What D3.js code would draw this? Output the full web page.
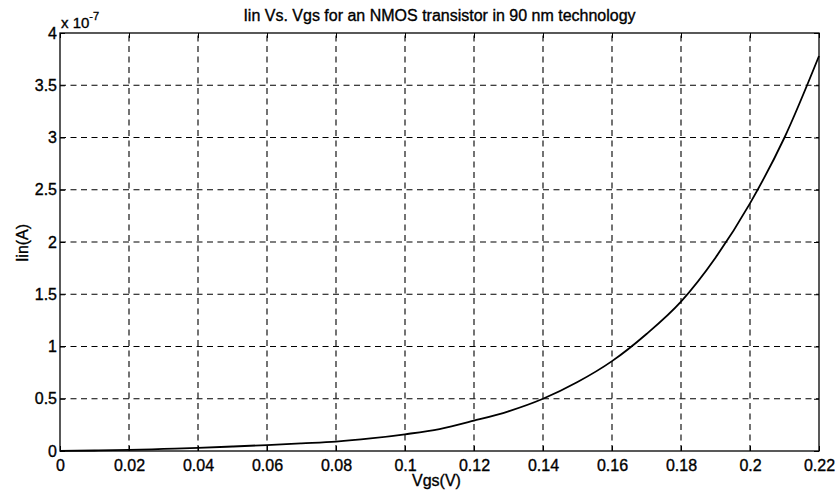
<!DOCTYPE html>
<html>
<head>
<meta charset="utf-8">
<script src="https://cdn.jsdelivr.net/npm/d3@7"></script>
<style>
  html, body { margin: 0; padding: 0; background: #fff; }
  svg { display: block; font-family: "Liberation Sans", Arial, Helvetica, sans-serif; }
  text { fill: #000; stroke: #000; stroke-width: 0.35px; }
</style>
</head>
<body>
<svg id="chart" width="836" height="491"></svg>
<script>
// Data (current in units of 1e-7 A)
const vgs = [0, 0.01, 0.02, 0.03, 0.04, 0.05, 0.06, 0.07, 0.08, 0.09, 0.10, 0.11, 0.12, 0.13, 0.14, 0.15, 0.16, 0.17, 0.18, 0.19, 0.20, 0.21, 0.22];
const iin = [0.002, 0.005, 0.01, 0.02, 0.03, 0.043, 0.057, 0.073, 0.09, 0.12, 0.16, 0.21, 0.29, 0.38, 0.5, 0.66, 0.86, 1.12, 1.43, 1.85, 2.37, 3.0, 3.78];
const xTicks = [0, 0.02, 0.04, 0.06, 0.08, 0.1, 0.12, 0.14, 0.16, 0.18, 0.2, 0.22];
const yTicks = [0, 0.5, 1, 1.5, 2, 2.5, 3, 3.5, 4];
const xTickLabels = ["0", "0.02", "0.04", "0.06", "0.08", "0.1", "0.12", "0.14", "0.16", "0.18", "0.2", "0.22"];
const yTickLabels = ["0", "0.5", "1", "1.5", "2", "2.5", "3", "3.5", "4"];
const titleText = "Iin Vs. Vgs for an NMOS transistor in 90 nm technology";
const xLabelText = "Vgs(V)";
const yLabelText = "Iin(A)";

const svg = d3.select("#chart");
const L = 60, R = 819, T = 33, B = 451;
const x = d3.scaleLinear().domain([0, 0.22]).range([L, R]);
const y = d3.scaleLinear().domain([0, 4]).range([B, T]);

// Grid
const g = svg.append("g");
g.selectAll(".vg").data(xTicks.slice(1, -1)).enter().append("line")
  .attr("x1", d => x(d)).attr("x2", d => x(d)).attr("y1", B).attr("y2", T)
  .attr("stroke", "#000").attr("stroke-width", 1.1).attr("stroke-dasharray", "6,4.5");
g.selectAll(".hg").data(yTicks.slice(1, -1)).enter().append("line")
  .attr("y1", d => y(d)).attr("y2", d => y(d)).attr("x1", L).attr("x2", R)
  .attr("stroke", "#000").attr("stroke-width", 1.1).attr("stroke-dasharray", "6,4.5");

// Axes
const xAxis = d3.axisBottom(x).tickValues(xTicks).tickSize(-5).tickPadding(9)
  .tickFormat((d, i) => xTickLabels[i]);
const yAxis = d3.axisLeft(y).tickValues(yTicks).tickSize(-5).tickPadding(3)
  .tickFormat((d, i) => yTickLabels[i]);
const xa = svg.append("g").attr("transform", `translate(0,${B})`).call(xAxis);
const ya = svg.append("g").attr("transform", `translate(${L},0)`).call(yAxis);
[xa, ya].forEach(a => {
  a.select(".domain").remove();
  a.selectAll("line").attr("stroke", "#000");
  a.selectAll("text").attr("fill", "#000").style("font-size", "16px").style("font-family", "Liberation Sans, Arial, sans-serif");
});
// top/right ticks
svg.append("g").attr("transform", `translate(0,${T})`)
  .call(d3.axisTop(x).tickValues(xTicks).tickSize(-5).tickFormat(""))
  .call(a => { a.select(".domain").remove(); a.selectAll("line").attr("stroke", "#000"); });
svg.append("g").attr("transform", `translate(${R},0)`)
  .call(d3.axisRight(y).tickValues(yTicks).tickSize(-5).tickFormat(""))
  .call(a => { a.select(".domain").remove(); a.selectAll("line").attr("stroke", "#000"); });

// Box
svg.append("rect").attr("x", L).attr("y", T).attr("width", R - L).attr("height", B - T)
  .attr("fill", "none").attr("stroke", "#000").attr("stroke-width", 1.3);

// Curve
const data = vgs.map((v, i) => [v, iin[i]]);
svg.append("path").datum(data)
  .attr("fill", "none").attr("stroke", "#000").attr("stroke-width", 1.8)
  .attr("d", d3.line().x(d => x(d[0])).y(d => y(d[1])).curve(d3.curveMonotoneX));

// Title & labels
svg.append("text").attr("x", (L + R) / 2).attr("y", 21).attr("text-anchor", "middle")
  .style("font-size", "16px").text(titleText);
svg.append("text").attr("x", (L + R) / 2 - 3).attr("y", 486).attr("text-anchor", "middle")
  .style("font-size", "16px").text(xLabelText);
svg.append("text").attr("transform", `translate(28,${(T + B) / 2 + 1}) rotate(-90)`)
  .attr("text-anchor", "middle").style("font-size", "16px").text(yLabelText);

// Exponent
const ex = svg.append("text").attr("x", 61).attr("y", 28).style("font-size", "15px");
ex.append("tspan").text("x 10");
ex.append("tspan").attr("dy", -8).style("font-size", "11px").text("-7");
</script>
</body>
</html>
